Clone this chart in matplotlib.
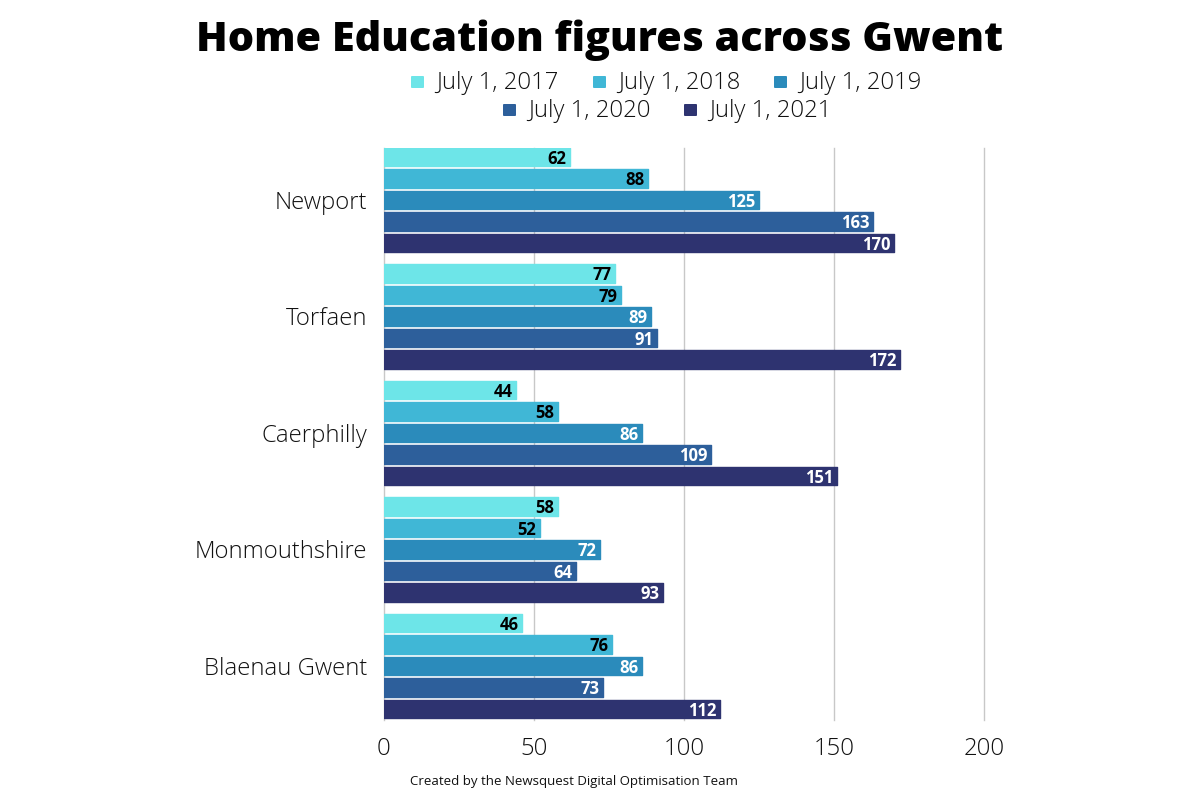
#!/usr/bin/env python3
import matplotlib
matplotlib.use('Agg')
import matplotlib.pyplot as plt
from matplotlib.font_manager import FontProperties
from matplotlib.patches import FancyBboxPatch
import numpy as np

areas = ['Newport', 'Torfaen', 'Caerphilly', 'Monmouthshire', 'Blaenau Gwent']
dates = ['July 1, 2017', 'July 1, 2018', 'July 1, 2019', 'July 1, 2020', 'July 1, 2021']
y2017 = [62, 77, 44, 58, 46]
y2018 = [88, 79, 58, 52, 76]
y2019 = [125, 89, 86, 72, 86]
y2020 = [163, 91, 109, 64, 73]
y2021 = [170, 172, 151, 93, 112]
ticks = [0, 50, 100, 150, 200]

colours = ['#6de5e8', '#40b7d6', '#2b8bbb', '#2d5f9b', '#2e3370']
label_colours = ['black', 'black', 'white', 'white', 'white']
series = [y2017, y2018, y2019, y2020, y2021]

plt.rcParams['font.family'] = ['Open Sans', 'DejaVu Sans']

fig = plt.figure(figsize=(12, 8), dpi=100)
ax = fig.add_axes([384 / 1200, 1 - 720 / 800, 600 / 1200, (720 - 148) / 800])

group = np.arange(len(areas))
height = 0.158
step = 0.1845
for i, (vals, c, lc) in enumerate(zip(series, colours, label_colours)):
    pos = group + (i - 2) * step
    # thin round-joined edge gives the slightly soft corners of the original
    ax.barh(pos, vals, height=height, color=c, edgecolor=c, linewidth=1.0, joinstyle='round', zorder=2)
    for p, v in zip(pos, vals):
        ax.text(v - 1.2, p, str(v), ha='right', va='center_baseline', fontsize=12,
                fontweight='bold', color=lc, zorder=3)

ax.set_xlim(0, 200)
ax.set_ylim(4.465, -0.445)
ax.set_xticks(ticks)
ax.set_yticks(group)
ax.set_yticklabels(areas)
light = FontProperties(family='Open Sans', weight='light', size=17.2)
for t in ax.get_xticklabels() + ax.get_yticklabels():
    t.set_fontproperties(light)
    t.set_color('#111111')
ax.tick_params(axis='both', length=0)
ax.tick_params(axis='y', pad=12)
ax.tick_params(axis='x', pad=12)
ax.grid(axis='x', color='#c8c8c8', linewidth=1, zorder=0, clip_on=False)
ax.set_axisbelow(True)
for s in ax.spines.values():
    s.set_visible(False)

fig.text(600 / 1200, 1 - 40 / 800, 'Home Education figures across Gwent', ha='center', va='center',
         fontsize=29.8, fontweight='heavy', color='black')

# legend in two rows like the original, 3 then 2
row1 = [(412, 0), (594, 1), (775, 2)]
row2 = [(504, 3), (685, 4)]
for row, ypx in ((row1, 82), (row2, 110)):
    for xpx, i in row:
        fig.add_artist(FancyBboxPatch((xpx, 800 - ypx - 5), 11, 10, boxstyle='round,pad=1', transform=None,
                                      facecolor=colours[i], edgecolor='none'))
        fig.text((xpx + 24) / 1200, 1 - (ypx + 1) / 800, dates[i], ha='left', va='center',
                 fontproperties=light, color='#111111')

fig.text(574 / 1200, 1 - 781.5 / 800, 'Created by the Newsquest Digital Optimisation Team', ha='center',
         va='center', fontsize=9.55, color='#111111')

fig.savefig('out.png', dpi=100)
